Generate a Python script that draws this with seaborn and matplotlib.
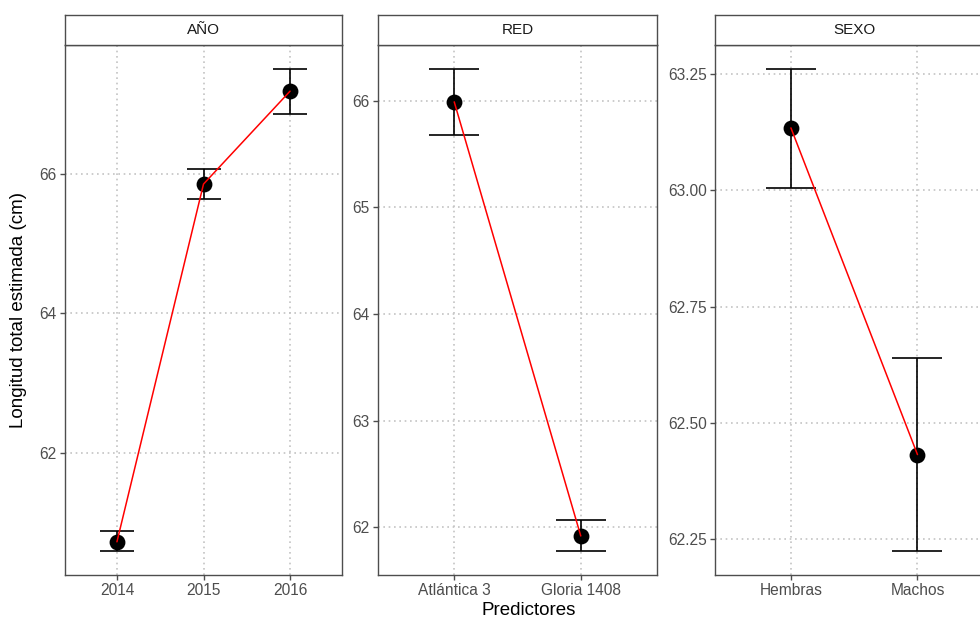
import numpy as np
import pandas as pd
import matplotlib
matplotlib.use("Agg")
import matplotlib.pyplot as plt
import seaborn as sns

# ---- data ----
facets = ["AÑO", "RED", "SEXO"]

anio_cats = ["2014", "2015", "2016"]
anio_est = [60.73, 65.85, 67.18]
anio_low = [60.60, 65.64, 66.86]
anio_high = [60.88, 66.06, 67.50]
anio_ticks = [62, 64, 66]
anio_ticklabels = ["62", "64", "66"]

red_cats = ["Atlántica 3", "Gloria 1408"]
red_est = [65.99, 61.92]
red_low = [65.68, 61.78]
red_high = [66.30, 62.07]
red_ticks = [62, 63, 64, 65, 66]
red_ticklabels = ["62", "63", "64", "65", "66"]

sexo_cats = ["Hembras", "Machos"]
sexo_est = [63.134, 62.432]
sexo_low = [63.004, 62.225]
sexo_high = [63.261, 62.640]
sexo_ticks = [62.25, 62.50, 62.75, 63.00, 63.25]
sexo_ticklabels = ["62.25", "62.50", "62.75", "63.00", "63.25"]

ylabel = "Longitud total estimada (cm)"
xlabel = "Predictores"

panels = [
    (facets[0], anio_cats, anio_est, anio_low, anio_high, anio_ticks, anio_ticklabels),
    (facets[1], red_cats, red_est, red_low, red_high, red_ticks, red_ticklabels),
    (facets[2], sexo_cats, sexo_est, sexo_low, sexo_high, sexo_ticks, sexo_ticklabels),
]

# ---- style ----
sns.set_theme(style="white")
plt.rcParams["font.family"] = ["Liberation Sans", "DejaVu Sans"]

W, H = 980, 620
fig = plt.figure(figsize=(W / 100, H / 100), dpi=100)
fig.patch.set_facecolor("white")

# panel pixel boxes (left, right); the third panel runs past the right edge
xboxes = [(65, 342), (378.3, 656.7), (715, 993.4)]
plot_top, plot_bot = 44.7, 575.0
strip_top = 14.6

border = "#4d4d4d"
gridc = "#c4c4c4"

for (name, cats, est, low, high, ticks, tlabels), (xl, xr) in zip(panels, xboxes):
    ax = fig.add_axes([xl / W, (H - plot_bot) / H, (xr - xl) / W, (plot_bot - plot_top) / H])
    ax.set_facecolor("white")
    df = pd.DataFrame({"x": cats, "y": est, "lo": low, "hi": high})

    n = len(cats)
    ax.set_xlim(-0.6, n - 1 + 0.6)
    lo_all, hi_all = min(low), max(high)
    pad = 0.05 * (hi_all - lo_all)
    ax.set_ylim(lo_all - pad, hi_all + pad)

    # grid
    ax.set_yticks(ticks)
    ax.set_yticklabels(tlabels)
    ax.grid(True, axis="both", linestyle=(0, (1, 2.2)), color=gridc, linewidth=1.2)
    ax.set_axisbelow(True)

    # cap half-width in points: 0.2 data units
    px_per_unit = (xr - xl) / (n - 1 + 1.2)
    cap_pt = 0.2 * px_per_unit * 72 / 100

    sns.scatterplot(data=df, x="x", y="y", ax=ax, color="black", s=130,
                    edgecolor="black", linewidth=0, zorder=3)
    ax.errorbar(df["x"], df["y"], yerr=[df["y"] - df["lo"], df["hi"] - df["y"]],
                fmt="none", ecolor="black", elinewidth=1.2, capsize=cap_pt,
                capthick=1.2, zorder=4)
    sns.lineplot(data=df, x="x", y="y", ax=ax, color="red", linewidth=1.1,
                 sort=False, zorder=5)

    ax.set_xlim(-0.6, n - 1 + 0.6)
    ax.set_xlabel("")
    ax.set_ylabel("")
    for s in ax.spines.values():
        s.set_color(border)
        s.set_linewidth(1.0)
    ax.tick_params(axis="both", which="major", length=3.5, width=1.0, color=border,
                   labelsize=11.2, labelcolor="#4d4d4d", pad=2.5,
                   left=True, bottom=True)

    # strip
    sax = fig.add_axes([xl / W, (H - plot_top) / H, (xr - xl) / W, (plot_top - strip_top) / H])
    sax.set_facecolor("white")
    sax.set_xticks([])
    sax.set_yticks([])
    for s in sax.spines.values():
        s.set_color(border)
        s.set_linewidth(1.0)
    sax.text(0.5, 0.5, name, ha="center", va="center", fontsize=11, color="#1a1a1a",
             transform=sax.transAxes)

fig.text(19 / W, 1 - 310 / H, ylabel, rotation=90, ha="center", va="center",
         fontsize=13.5, color="black")
fig.text(529 / W, 1 / H, xlabel, ha="center", va="bottom", fontsize=13.5,
         color="black")

fig.savefig("out.png", dpi=100, facecolor="white")
